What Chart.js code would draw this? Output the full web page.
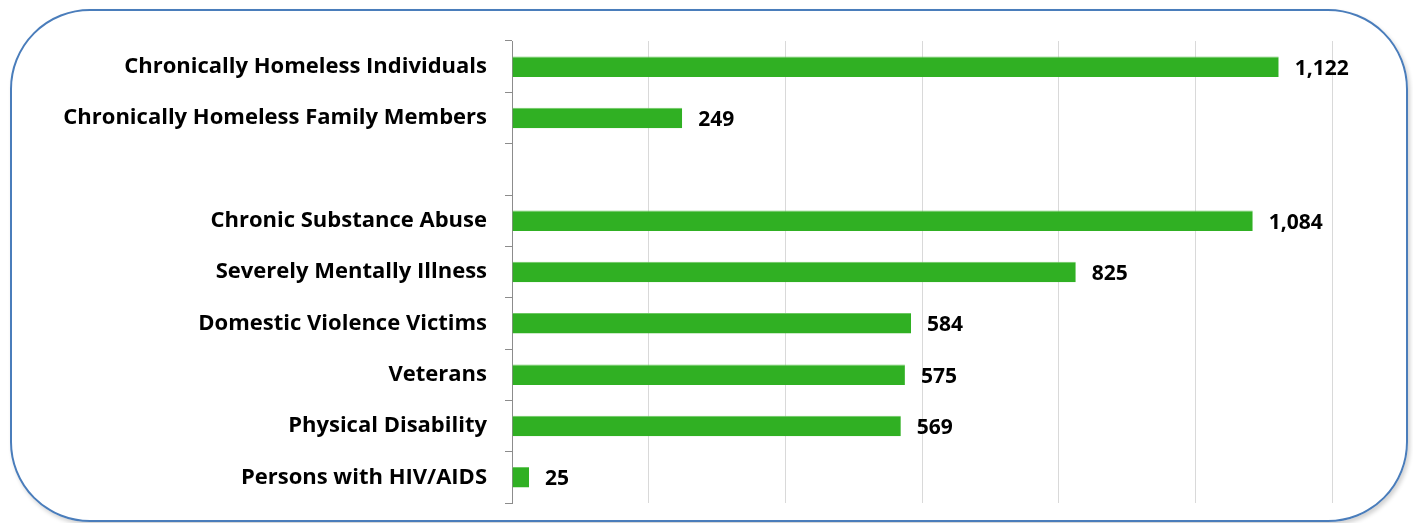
<!DOCTYPE html>
<html>
<head>
<meta charset="utf-8">
<script src="https://cdn.jsdelivr.net/npm/chart.js@4/dist/chart.umd.min.js"></script>
<style>
  html, body { margin: 0; padding: 0; background: #fff; }
  #wrap { position: relative; width: 1413px; height: 523px; }
  #frame {
    position: absolute; left: 10px; top: 9px; width: 1394px; height: 509px;
    border: 2px solid #4a7dbb; border-radius: 80px;
    box-shadow: 2px 3px 4px rgba(0,0,0,0.18);
  }
  #chart { position: absolute; left: 0; top: 0; }
</style>
</head>
<body>
<div id="wrap">
  <div id="frame"></div>
  <canvas id="chart" width="1413" height="523"></canvas>
</div>
<script>
'use strict';

let labels = [
  'Chronically Homeless Individuals',
  'Chronically Homeless Family Members',
  '',
  'Chronic Substance Abuse',
  'Severely Mentally Illness',
  'Domestic Violence Victims',
  'Veterans',
  'Physical Disability',
  'Persons with HIV/AIDS'
];
let counts = [1122, 249, null, 1084, 825, 584, 575, 569, 25];

let fontFamily = '"Open Sans", sans-serif';

// writes the number at the end of each bar
let valueLabels = {
  id: 'valueLabels',
  afterDatasetsDraw (chart) {
    let ctx = chart.ctx;
    let meta = chart.getDatasetMeta(0);
    ctx.save();
    ctx.font = 'bold 21px ' + fontFamily;
    ctx.fillStyle = '#000';
    ctx.textBaseline = 'middle';
    meta.data.forEach((bar, i) => {
      if (counts[i] == null) return;
      ctx.fillText(counts[i].toLocaleString('en-US'), bar.x + 16, bar.y + 2);
    });
    ctx.restore();
  }
};

let ctx = document.getElementById('chart').getContext('2d');
let chart = new Chart(ctx, {
  type: 'bar',
  data: {
    labels: labels,
    datasets: [{
      data: counts,
      backgroundColor: '#30b023',
      borderColor: '#6cc862',
      borderWidth: { top: 1, right: 0, bottom: 0, left: 0 },
      borderSkipped: false,
      categoryPercentage: 1,
      barPercentage: 0.4
    }]
  },
  options: {
    indexAxis: 'y',
    responsive: false,
    animation: false,
    layout: { padding: { top: 41, bottom: 20, right: 81, left: 0 } },
    plugins: {
      legend: { display: false },
      tooltip: { enabled: false }
    },
    scales: {
      x: {
        min: 0,
        max: 1200,
        afterFit (scale) { scale.height = 0; },
        ticks: { display: false, stepSize: 200 },
        grid: { color: '#d9d9d9', lineWidth: 1, drawTicks: false },
        border: { display: false }
      },
      y: {
        afterFit (scale) {
          scale.width = 512;
          scale.paddingTop = 0;
          scale.paddingBottom = 0;
        },
        ticks: {
          color: '#000',
          padding: 18,
          font: { family: fontFamily, size: 22, weight: 'bold' }
        },
        grid: { drawOnChartArea: false, color: '#8c8c8c', tickLength: 7 },
        border: { color: '#8c8c8c' }
      }
    }
  },
  plugins: [valueLabels]
});
</script>
</body>
</html>
